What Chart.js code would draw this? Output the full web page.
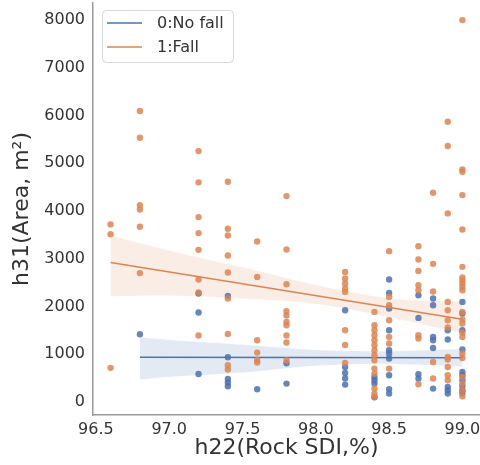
<!DOCTYPE html>
<html>
<head>
<meta charset="utf-8">
<script src="https://cdn.jsdelivr.net/npm/chart.js@4.4.1/dist/chart.umd.min.js"></script>
<style>
  html, body { margin: 0; padding: 0; background: #fff; overflow: hidden; }
  #wrap { width: 480px; height: 465px; }
</style>
</head>
<body>
<div id="wrap"><canvas id="myChart"></canvas></div>
<script>
// Rock SDI values (x) and the area values seen at each of them
const sdiValues = [96.6, 96.8, 97.2, 97.4, 97.6, 97.8, 98.2, 98.4, 98.5, 98.7, 98.8, 98.9, 99.0];

const fallArea = [
    [3720, 3515, 715],
    [6095, 5535, 4124, 4033, 3670, 2700],
    [5255, 4600, 3872, 3537, 3187, 2566, 2293, 1392],
    [4612, 3627, 3488, 3069, 2712, 2167, 1425, 769, 679],
    [3362, 2620, 1293, 1035, 880, 826],
    [4312, 3195, 2467, 1901, 1811, 1677, 1608, 1392, 1245, 874],
    [2725, 2587, 2482, 2377, 2306, 1503, 1195, 818],
    [1887, 1608, 1503, 1398, 1293, 1189, 1084, 979, 874, 700, 595, 281, 176, 105],
    [3159, 2201, 2027, 1713, 1363, 1224, 700],
    [3264, 2985, 2746, 2447, 2342, 1398, 1329, 371],
    [4381, 2893, 2313, 839, 491],
    [5870, 5360, 3950, 2096, 1922, 1713, 1560, 943, 889, 734, 560, 455],
    [7998, 4872, 4822, 4333, 3614, 2830, 2608, 2551, 2482, 2411, 2342, 1887, 1727, 1643, 1447, 1363, 1015, 922, 524, 386, 245, 119],
];

const noFallArea = [
    [],
    [1420],
    [2272, 1874, 587],
    [2222, 937, 482, 407, 329],
    [266],
    [811, 386],
    [1922, 734, 608, 491, 365],
    [524, 455, 386, 100],
    [2566, 2285, 1958, 1503, 1084, 1015, 910, 560, 266, 176],
    [2237, 1761, 581, 491],
    [2168, 2027, 1363, 1293, 1132, 281],
    [1503, 1308, 314, 245, 176],
    [2096, 1853, 1503, 1099, 629, 560, 455, 335, 245, 189],
];

// regression lines (end points) and confidence bands
const fallFitX = [96.6, 99.0];
const fallFitY = [2920, 1733];
const noFallFitX = [96.8, 99.0];
const noFallFitY = [938, 928];

const fallBandX = [96.6, 97.0, 97.5, 98.0, 98.5, 99.0];
const fallBandUpper = [3480, 3170, 2820, 2450, 2170, 2100];
const fallBandLower = [2215, 2230, 2170, 2060, 1780, 1440];

const noFallBandX = [96.8, 97.0, 97.5, 98.0, 98.5, 99.0];
const noFallBandUpper = [1350, 1300, 1200, 1090, 1065, 1110];
const noFallBandLower = [470, 530, 620, 760, 800, 740];

const xTicks = [96.5, 97.0, 97.5, 98.0, 98.5, 99.0];
const yTicks = [0, 1000, 2000, 3000, 4000, 5000, 6000, 7000, 8000];

const seriesLabels = ['0:No fall', '1:Fall'];
const blue = '#4c72b0';
const orange = '#dd8452';

function toPoints(groups) {
    const pts = [];
    groups.forEach((ys, i) => ys.forEach(y => pts.push({ x: sdiValues[i], y: y })));
    return pts;
}
function pairs(xs, ys) {
    return xs.map((x, i) => ({ x: x, y: ys[i] }));
}

const legendBox = {
    id: 'legendBox',
    afterDraw(chart) {
        const ctx = chart.ctx;
        const area = chart.chartArea;
        const x0 = area.left + 9, y0 = 10, w = 131, h = 52;
        ctx.save();
        ctx.fillStyle = 'rgba(255,255,255,0.85)';
        ctx.strokeStyle = '#d8d8d8';
        ctx.lineWidth = 1;
        ctx.beginPath();
        ctx.roundRect(x0 + 0.5, y0 + 0.5, w, h, 4);
        ctx.fill();
        ctx.stroke();
        const colors = [blue, orange];
        ctx.font = '16px "DejaVu Sans"';
        ctx.textBaseline = 'middle';
        seriesLabels.forEach((label, i) => {
            const yy = y0 + 13 + i * 24;
            ctx.strokeStyle = colors[i];
            ctx.lineWidth = 1.6;
            ctx.beginPath();
            ctx.moveTo(x0 + 5, yy);
            ctx.lineTo(x0 + 40, yy);
            ctx.stroke();
            ctx.fillStyle = '#333';
            ctx.fillText(label, x0 + 55, yy + 1);
        });
        ctx.restore();
    }
};

const ctx = document.getElementById('myChart').getContext('2d');

new Chart(ctx, {
    type: 'scatter',
    data: {
        datasets: [
            {
                label: seriesLabels[1] + ' fit',
                type: 'line',
                data: pairs(fallFitX, fallFitY),
                borderColor: orange,
                borderWidth: 1.6,
                pointRadius: 0,
                fill: false,
                order: 1,
            },
            {
                label: seriesLabels[1],
                data: toPoints(fallArea),
                backgroundColor: 'rgba(221,132,82,0.85)',
                borderWidth: 0,
                pointRadius: 3.2,
                order: 2,
            },
            {
                label: seriesLabels[0] + ' fit',
                type: 'line',
                data: pairs(noFallFitX, noFallFitY),
                borderColor: blue,
                borderWidth: 1.6,
                pointRadius: 0,
                fill: false,
                order: 3,
            },
            {
                label: seriesLabels[0],
                data: toPoints(noFallArea),
                backgroundColor: 'rgba(76,114,176,0.85)',
                borderWidth: 0,
                pointRadius: 3.2,
                order: 4,
            },
            {
                label: 'fall upper',
                type: 'line',
                data: pairs(fallBandX, fallBandUpper),
                borderWidth: 0,
                borderColor: 'transparent',
                pointRadius: 0,
                tension: 0.3,
                fill: '+1',
                backgroundColor: 'rgba(221,132,82,0.15)',
                order: 5,
            },
            {
                label: 'fall lower',
                type: 'line',
                data: pairs(fallBandX, fallBandLower),
                borderWidth: 0,
                borderColor: 'transparent',
                pointRadius: 0,
                tension: 0.3,
                fill: false,
                order: 6,
            },
            {
                label: 'no fall upper',
                type: 'line',
                data: pairs(noFallBandX, noFallBandUpper),
                borderWidth: 0,
                borderColor: 'transparent',
                pointRadius: 0,
                tension: 0.3,
                fill: '+1',
                backgroundColor: 'rgba(76,114,176,0.15)',
                order: 7,
            },
            {
                label: 'no fall lower',
                type: 'line',
                data: pairs(noFallBandX, noFallBandLower),
                borderWidth: 0,
                borderColor: 'transparent',
                pointRadius: 0,
                tension: 0.3,
                fill: false,
                order: 8,
            },
        ],
    },
    options: {
        responsive: true,
        maintainAspectRatio: false,
        animation: false,
        layout: {
            autoPadding: false,
            padding: { left: 6, right: 0, top: 3, bottom: 2 },
        },
        plugins: {
            legend: { display: false },
            tooltip: { enabled: false },
        },
        scales: {
            x: {
                type: 'linear',
                min: 96.48,
                max: 99.12,
                afterBuildTicks: (axis) => { axis.ticks = xTicks.map(v => ({ value: v })); },
                afterFit: (axis) => {
                    axis.height = 48;
                    axis.paddingLeft = 0;
                    axis.paddingRight = 0;
                },
                ticks: {
                    callback: (v) => v.toFixed(1),
                    color: '#333',
                    font: { family: 'DejaVu Sans', size: 16 },
                    padding: 0,
                    maxRotation: 0,
                },
                grid: { display: false, drawTicks: true, tickLength: 5 },
                border: { display: true, color: '#999', width: 1.5 },
                title: {
                    display: true,
                    text: 'h22(Rock SDI,%)',
                    color: '#333',
                    font: { family: 'DejaVu Sans', size: 22 },
                    padding: { top: 0, bottom: 2 },
                },
            },
            y: {
                type: 'linear',
                min: -272,
                max: 8356,
                afterBuildTicks: (axis) => { axis.ticks = yTicks.map(v => ({ value: v })); },
                afterFit: (axis) => {
                    axis.width = 87;
                    axis.paddingTop = 0;
                    axis.paddingBottom = 0;
                },
                ticks: {
                    callback: (v) => String(v),
                    color: '#333',
                    font: { family: 'DejaVu Sans', size: 16 },
                    padding: 8,
                },
                grid: { display: false, drawTicks: false },
                border: { display: true, color: '#999', width: 1.5 },
                title: {
                    display: true,
                    text: 'h31(Area, m²)',
                    color: '#333',
                    font: { family: 'DejaVu Sans', size: 22 },
                    padding: { top: 3, bottom: 0 },
                },
            },
        },
    },
    plugins: [legendBox],
});
</script>
</body>
</html>
